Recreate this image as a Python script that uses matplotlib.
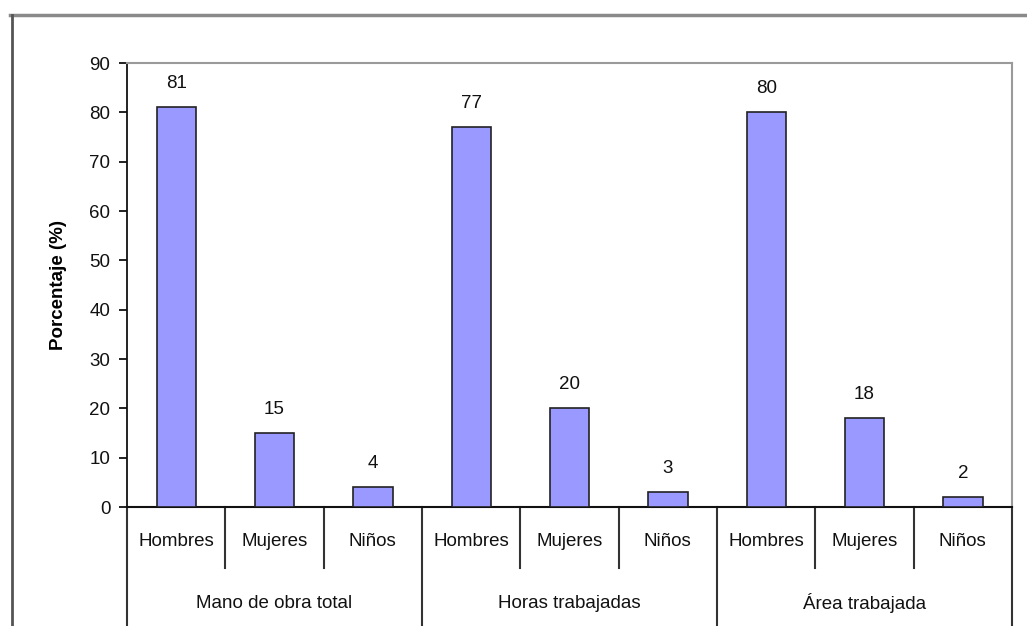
import matplotlib
matplotlib.use("Agg")
import matplotlib.pyplot as plt
from matplotlib.lines import Line2D
import matplotlib.transforms as mtransforms

groups = ["Mano de obra total", "Horas trabajadas", "Área trabajada"]
categories = ["Hombres", "Mujeres", "Niños"]
values = [81, 15, 4, 77, 20, 3, 80, 18, 2]
yticks = [0, 10, 20, 30, 40, 50, 60, 70, 80, 90]

plt.rcParams['font.family'] = ['Liberation Sans', 'DejaVu Sans']
FS = 13.5

fig = plt.figure(figsize=(10.27, 6.26), dpi=100)
ax = fig.add_axes([127/1027, 1 - 507/626, (1012-127)/1027, (507-63)/626])

n = len(values)
xs = list(range(n))
ax.bar(xs, values, width=0.4, color="#9999FF", edgecolor="#222222", linewidth=1.2, zorder=3)
for x, v in zip(xs, values):
    ax.annotate(str(v), (x, v), xytext=(0, 11), textcoords="offset points",
                ha="center", va="bottom", fontsize=FS, color="#111111")

ax.set_xlim(-0.5, n - 0.5)
ax.set_ylim(0, 90)
ax.set_yticks(yticks)
ax.tick_params(axis="y", direction="out", length=6, width=1.3, labelsize=FS, pad=6, colors="#111111")
ax.set_xticks([])
ax.set_ylabel("Porcentaje (%)", fontsize=FS, fontweight="bold")
ax.yaxis.set_label_coords(-0.068, 0.5)

for s in ["top", "right"]:
    ax.spines[s].set_color("#9a9a9a")
    ax.spines[s].set_linewidth(1.5)
ax.spines["left"].set_color("#111111")
ax.spines["left"].set_linewidth(1.3)
ax.spines["bottom"].set_color("#111111")
ax.spines["bottom"].set_linewidth(1.5)

trans = mtransforms.blended_transform_factory(ax.transData, ax.transAxes)
ah = 444.0
for i in range(n + 1):
    xb = i - 0.5
    y0 = -(626 - 507) / ah if i % 3 == 0 else -61 / ah
    ax.add_line(Line2D([xb, xb], [0, y0], transform=trans, color="#333333", lw=1.5, clip_on=False))

for i, x in enumerate(xs):
    ax.text(x, -34 / ah, categories[i % 3], transform=trans, ha="center", va="center",
            fontsize=FS, color="#111111")
for g, name in enumerate(groups):
    ax.text(3 * g + 1, -96 / ah, name, transform=trans, ha="center", va="center",
            fontsize=FS, color="#111111")

fig.add_artist(Line2D([10/1027, 1.0], [1 - 15/626, 1 - 15/626], transform=fig.transFigure,
                      color="#8a8a8a", lw=2.5))
fig.add_artist(Line2D([12/1027, 12/1027], [0, 1 - 15/626], transform=fig.transFigure,
                      color="#555555", lw=2))

fig.savefig("out.png", dpi=100)
